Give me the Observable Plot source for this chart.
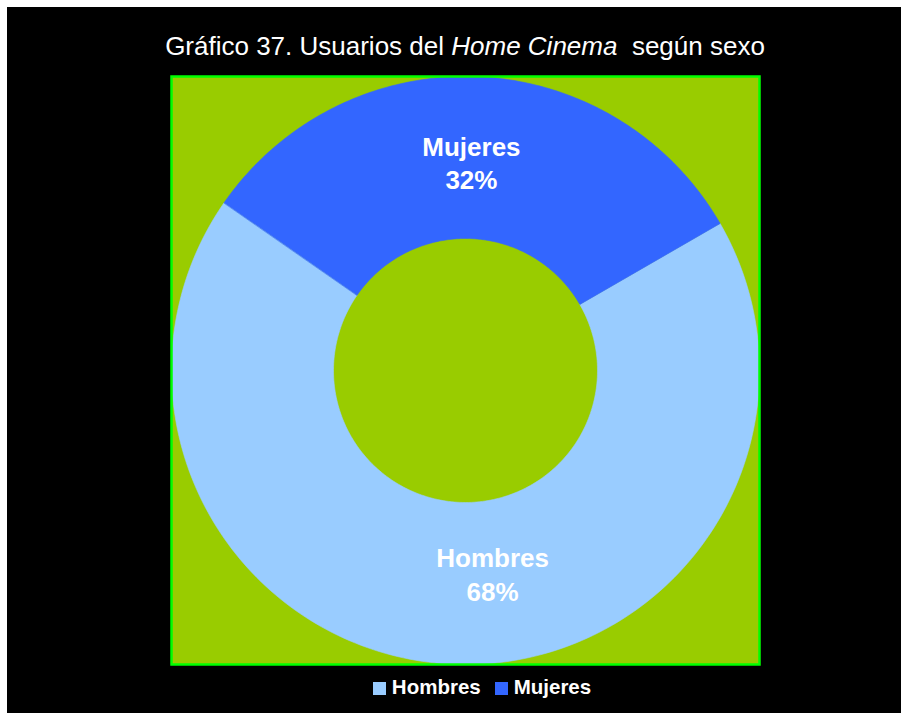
<!DOCTYPE html>
<html>
<head>
<meta charset="utf-8">
<script src="https://cdn.jsdelivr.net/npm/d3@7"></script>
<script src="https://cdn.jsdelivr.net/npm/@observablehq/plot@0.6"></script>
<style>
  html, body { margin: 0; padding: 0; background: #ffffff; width: 901px; height: 713px; overflow: hidden; }
  #panel { position: absolute; left: 7px; top: 7px; width: 894px; height: 706px; background: #000000; }
  #title { position: absolute; left: 0; top: 31px; width: 930px; text-align: center; color: #ffffff;
           font-family: "Liberation Sans", Arial, sans-serif; font-size: 26px; line-height: 30px; white-space: pre; }
  #chart { position: absolute; left: 0; top: 70px; }
  #legend { position: absolute; left: 0; top: 676px; width: 964px; text-align: center; color: #ffffff;
            font-family: "Liberation Sans", Arial, sans-serif; font-weight: bold; font-size: 20.5px; line-height: 22px; white-space: nowrap; }
  .item { display: inline-block; margin: 0 7px; }
  .sw { display: inline-block; width: 13px; height: 13px; margin-right: 6px; vertical-align: -1px; }
</style>
</head>
<body>
<div id="panel"></div>
<div id="title"></div>
<div id="chart"></div>
<div id="legend"></div>
<script>
// ---- data ----
const categories = ["Hombres", "Mujeres"];
const values = [68, 32];
const colors = ["#99CCFF", "#3366FF"];
const titleParts = ["Gráfico 37. Usuarios del ", "Home Cinema", "  según sexo"];

// ---- title ----
const t = document.getElementById("title");
t.append(document.createTextNode(titleParts[0]));
const em = document.createElement("i"); em.textContent = titleParts[1]; t.append(em);
t.append(document.createTextNode(titleParts[2]));

// ---- donut geometry derived from the values ----
const startDeg = 60;          // first slice starts here (clockwise from top)
const rOuter = 1, rInner = 0.449, rLabel = (rOuter + rInner) / 2;
const total = d3.sum(values);
const rows = categories.map((c, i) => ({cat: c, value: values[i]}));
let acc = 0;
const slices = rows.map(d => {
  const a0 = startDeg + acc / total * 360;
  acc += d.value;
  const a1 = startDeg + acc / total * 360;
  return {...d, a0, a1, mid: (a0 + a1) / 2, pct: Math.round(d.value / total * 100)};
});
const rad = Math.PI / 180;
const ring = [];
for (const s of slices) {
  const n = 200;
  for (let k = 0; k <= n; k++) {
    const a = (s.a0 + (s.a1 - s.a0) * k / n) * rad;
    ring.push({cat: s.cat, x: rOuter * Math.sin(a), y: rOuter * Math.cos(a)});
  }
  for (let k = n; k >= 0; k--) {
    const a = (s.a0 + (s.a1 - s.a0) * k / n) * rad;
    ring.push({cat: s.cat, x: rInner * Math.sin(a), y: rInner * Math.cos(a)});
  }
}
const labels = slices.map(s => ({
  cat: s.cat,
  text: `${s.cat}\n${s.pct}%`,
  x: rLabel * Math.sin(s.mid * rad),
  y: rLabel * Math.cos(s.mid * rad)
}));

const labelStyle = {
  x: "x", y: "y", text: "text", fill: "#ffffff", fontSize: 26, fontWeight: "bold",
  lineHeight: 1.3, textAnchor: "middle", lineAnchor: "middle"
};

const chart = Plot.plot({
  width: 901, height: 600,
  marginLeft: 171, marginRight: 142, marginTop: 6, marginBottom: 6,
  style: {background: "transparent", fontFamily: "'Liberation Sans', Arial, sans-serif", overflow: "visible"},
  x: {domain: [-1, 1], axis: null},
  y: {domain: [-1, 1], axis: null},
  color: {domain: categories, range: colors},
  marks: [
    Plot.frame({fill: "#99CC00", stroke: "none"}),
    Plot.line(ring, {x: "x", y: "y", z: "cat", fill: "cat", stroke: "cat", strokeWidth: 0.6, curve: "linear-closed"}),
    Plot.frame({stroke: "#00FF00", strokeWidth: 2.5}),
    Plot.text(labels.filter(d => d.cat === "Mujeres"), {...labelStyle, dx: -3, dy: 4}),
    Plot.text(labels.filter(d => d.cat === "Hombres"), {...labelStyle, dx: 36, dy: -10})
  ]
});
document.getElementById("chart").append(chart);

// ---- legend ----
const lg = document.getElementById("legend");
categories.forEach((c, i) => {
  const it = document.createElement("span"); it.className = "item";
  const sw = document.createElement("span"); sw.className = "sw"; sw.style.background = colors[i];
  it.append(sw, document.createTextNode(c));
  lg.append(it);
});
</script>
</body>
</html>
